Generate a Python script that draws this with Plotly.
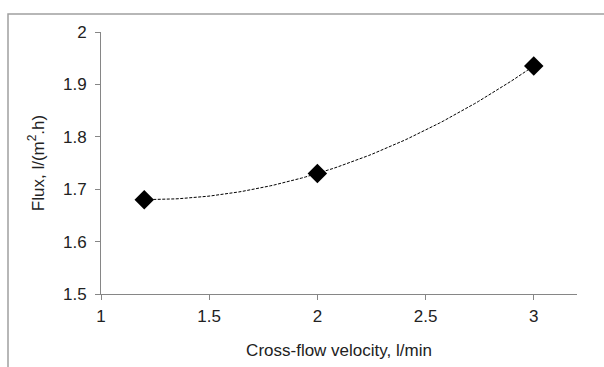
import numpy as np
import plotly.graph_objects as go

velocity = [1.2, 2.0, 3.0]
flux = [1.68, 1.73, 1.935]
x_ticks = [1, 1.5, 2, 2.5, 3]
y_ticks = [1.5, 1.6, 1.7, 1.8, 1.9, 2.0]

# second-order polynomial trendline fitted to the data
coef = np.polyfit(velocity, flux, 2)
xs = np.linspace(min(velocity), max(velocity), 100)
ys = np.polyval(coef, xs)

W, H = 604, 367
L, R, T, B = 101, 27, 32, 73
pw, ph = W - L - R, H - T - B

fig = go.Figure()
fig.add_trace(go.Scatter(x=xs, y=ys, mode="lines",
                         line=dict(color="black", width=1, dash="3px,1.5px"),
                         hoverinfo="skip", showlegend=False))
fig.add_trace(go.Scatter(x=velocity, y=flux, mode="markers",
                         marker=dict(symbol="diamond", size=15, color="black"),
                         showlegend=False))

font = dict(family="Liberation Sans, Arial, sans-serif", size=17, color="#222222")
axis_common = dict(showgrid=False, zeroline=False, showline=True, linecolor="#868686",
                   linewidth=1, ticks="outside", tickcolor="#868686", ticklen=5,
                   tickfont=font)

fig.update_layout(
    width=W, height=H,
    margin=dict(l=L, r=R, t=T, b=B),
    paper_bgcolor="white", plot_bgcolor="white",
    xaxis=dict(range=[1, 3.2], tickvals=x_ticks, ticktext=[str(v) for v in x_ticks],
               ticklabelstandoff=2,
               title=dict(text="Cross-flow velocity, l/min", font=font, standoff=18),
               **axis_common),
    yaxis=dict(range=[1.5, 2.0], tickvals=y_ticks,
               ticktext=["1.5", "1.6", "1.7", "1.8", "1.9", "2"],
               ticklabelstandoff=5,
               title=dict(text="Flux, l/(m<sup>2</sup>.h)", font=font, standoff=14),
               **axis_common),
    shapes=[dict(type="rect", xref="paper", yref="paper",
                 x0=(8 - L) / pw, x1=(W + 10 - L) / pw,
                 y0=-(B + 10) / ph, y1=1 + (T - 14) / ph,
                 line=dict(color="#a0a0a0", width=1.5), fillcolor="rgba(0,0,0,0)",
                 layer="below")],
)

fig.write_html("out.html")
